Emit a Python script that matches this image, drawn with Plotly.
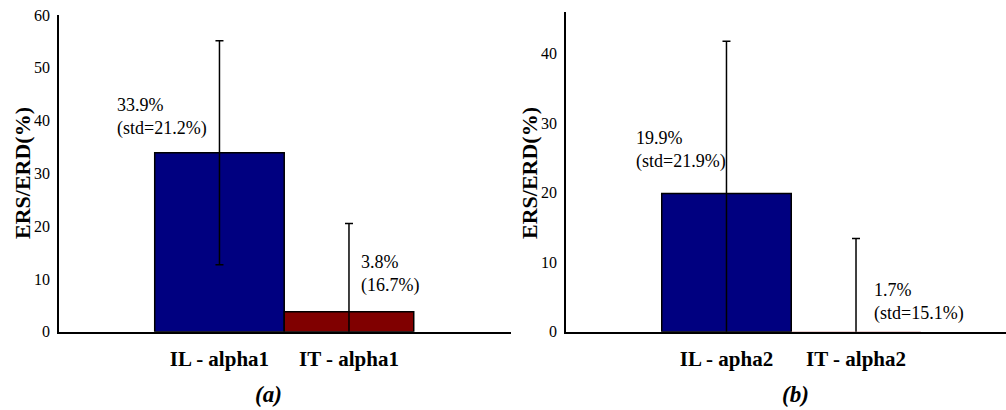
import plotly.graph_objects as go

# Mean ERS/ERD per condition with its standard deviation
cats_a = ["IL - alpha1", "IT - alpha1"]
mean_a = [33.9, 3.8]
std_a = [21.2, 16.7]
notes_a = ["33.9%<br>(std=21.2%)", "3.8%<br>(16.7%)"]

cats_b = ["IL - apha2", "IT - alpha2"]
mean_b = [19.9, -1.7]
std_b = [21.9, 15.1]
notes_b = ["19.9%<br>(std=21.9%)", "1.7%<br>(std=15.1%)"]

bar_colors = ["#000080", "#800000"]
W, H = 1006, 410
SERIF = "Liberation Serif, Times New Roman, Times, serif"


def px(x):
    return x / W


def py(y):
    return 1 - y / H


fig = go.Figure()

for cats, means, stds, xa, ya in [
    (cats_a, mean_a, std_a, "x", "y"),
    (cats_b, mean_b, std_b, "x2", "y2"),
]:
    # bars that fall below the visible range get no outline along the baseline
    edge = ["black" if m >= 0 else "rgba(0,0,0,0)" for m in means]
    fig.add_trace(go.Bar(
        x=cats, y=means, width=1,
        marker=dict(color=bar_colors, line=dict(color=edge, width=1.5)),
        error_y=dict(type="data", array=stds, visible=True,
                     color="black", thickness=1.5, width=4),
        xaxis=xa, yaxis=ya, showlegend=False,
    ))

axis_common = dict(showline=True, linecolor="black", linewidth=1.5,
                   showgrid=False, zeroline=False, ticks="")

fig.update_layout(
    width=W, height=H,
    margin=dict(l=0, r=0, t=0, b=0, autoexpand=False),
    paper_bgcolor="white", plot_bgcolor="white",
    font=dict(family=SERIF, color="black"),
    xaxis=dict(domain=[px(59), px(511)], anchor="y", type="category",
               range=[-1.239, 2.251],
               tickfont=dict(family=SERIF, size=21, weight="bold"),
               ticklabelstandoff=7, **axis_common),
    yaxis=dict(domain=[py(331.7), py(15)], anchor="x", range=[0, 60],
               tickvals=[0, 10, 20, 30, 40, 50, 60],
               tickfont=dict(family=SERIF, size=16),
               ticklabelstandoff=4, **axis_common),
    xaxis2=dict(domain=[px(566), 1.0], anchor="y2", type="category",
                range=[-1.239, 2.158],
                tickfont=dict(family=SERIF, size=21, weight="bold"),
                ticklabelstandoff=7, **axis_common),
    yaxis2=dict(domain=[py(331.7), py(12)], anchor="x2", range=[0, 46],
                tickvals=[0, 10, 20, 30, 40],
                tickfont=dict(family=SERIF, size=16),
                ticklabelstandoff=4, **axis_common),
)

annots = []
# value notes beside the bars
note_pos = [(115, 117), (359, 274), (634, 150), (872, 302)]
for text, (x, y) in zip(notes_a + notes_b, note_pos):
    annots.append(dict(text=text, x=px(x), y=py(y), xref="paper", yref="paper",
                       xanchor="left", yanchor="middle", align="left",
                       showarrow=False, font=dict(family=SERIF, size=18)))

# axis titles
for x in (23, 530):
    annots.append(dict(text="<b>ERS/ERD(%)</b>", x=px(x), y=py(173),
                       xref="paper", yref="paper", textangle=-90,
                       xanchor="center", yanchor="middle", showarrow=False,
                       font=dict(family=SERIF, size=22)))

# panel captions
for text, x in (("(a)", 268), ("(b)", 795)):
    annots.append(dict(text="<b><i>" + text + "</i></b>", x=px(x), y=py(394),
                       xref="paper", yref="paper", xanchor="center",
                       yanchor="middle", showarrow=False,
                       font=dict(family=SERIF, size=23)))

fig.update_layout(annotations=annots)
fig.write_html("out.html")
